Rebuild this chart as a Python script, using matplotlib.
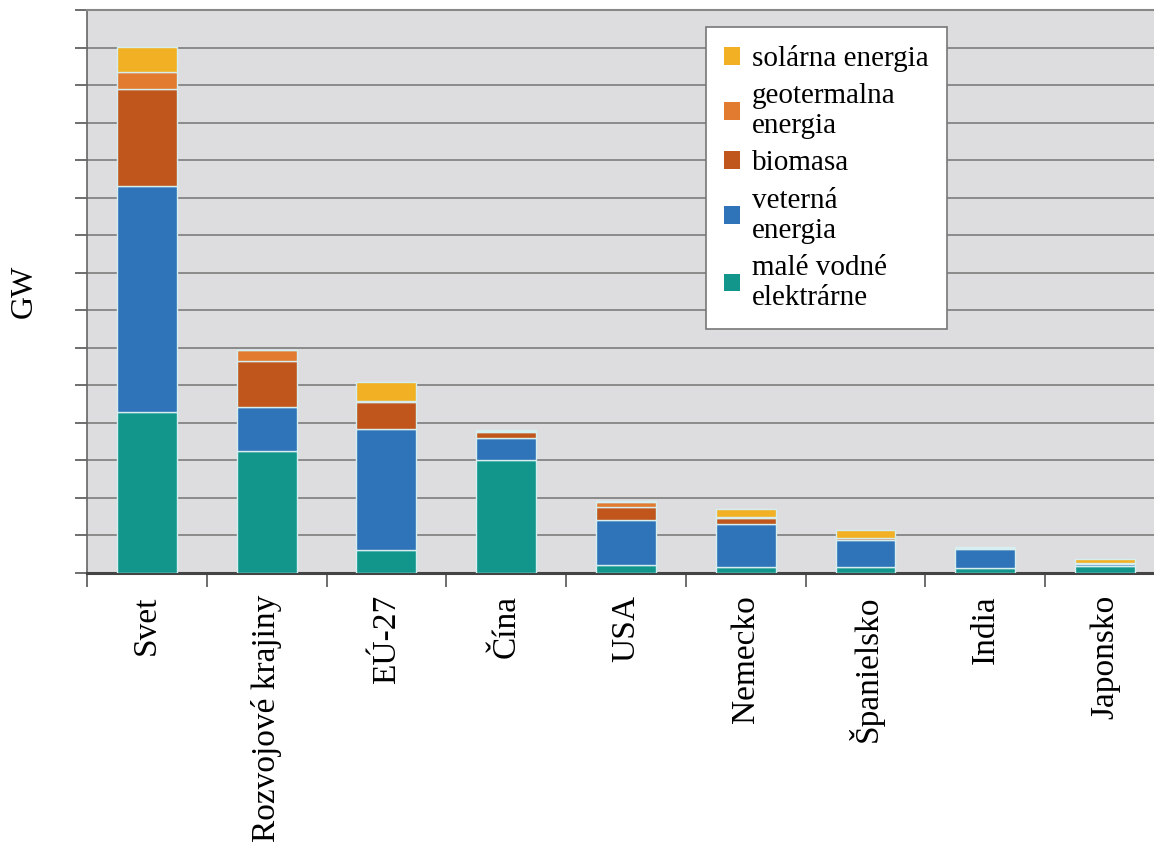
import numpy as np
from matplotlib import pyplot as plt

# podiel obnovitelnych zdrojov (GW), odcitane z grafu v jednotkach mriezky
krajiny = ['Svet', 'Rozvojové krajiny', 'EÚ-27', 'Čína', 'USA',
           'Nemecko', 'Španielsko', 'India', 'Japonsko']
male_vodne = [4.29, 3.25, 0.61, 3.01, 0.21, 0.16, 0.16, 0.13, 0.19]
veterna = [6.03, 1.17, 3.23, 0.59, 1.20, 1.15, 0.72, 0.50, 0.05]
biomasa = [2.59, 1.23, 0.72, 0.16, 0.35, 0.16, 0.04, 0.03, 0.03]
geotermalna = [0.45, 0.29, 0.03, 0.03, 0.13, 0.03, 0.02, 0.00, 0.00]
solarna = [0.67, 0.00, 0.51, 0.02, 0.03, 0.20, 0.20, 0.02, 0.10]

serie = [male_vodne, veterna, biomasa, geotermalna, solarna]
nazvy = ['malé vodné\nelektrárne', 'veterná\nenergia', 'biomasa',
         'geotermalna\nenergia', 'solárna energia']
farby = ['#12968c', '#2f74b8', '#c0561c', '#e27a30', '#f2b124']

plt.rcParams['font.family'] = ['Liberation Serif', 'DejaVu Serif']

fig = plt.figure(figsize=(11.54, 8.5), dpi=100)
ax = fig.add_axes([0.0754, 0.326, 0.934, 0.662])
ax.set_facecolor('#dddddf')

x = np.arange(len(krajiny))
spodok = np.zeros(len(krajiny))
handles = []
for hodnoty, nazov, farba in zip(serie, nazvy, farby):
    b = ax.bar(x, hodnoty, 0.5, bottom=spodok, color=farba,
               edgecolor='#d6eef0', linewidth=1.0, label=nazov, zorder=3)
    handles.append(b)
    spodok = spodok + np.array(hodnoty)

ax.set_xlim(-0.5, len(krajiny) - 0.5)
ax.set_ylim(0, 15)
ax.set_yticks(np.arange(0, 16))
ax.set_yticklabels([])
ax.yaxis.grid(True, color='#8a8a8a', linewidth=1.4, zorder=0)
ax.set_axisbelow(True)
ax.tick_params(axis='y', direction='out', length=9, width=1.2, color='#555555')

ax.set_xticks(x)
ax.set_xticklabels(krajiny, rotation=90, fontsize=24)
ax.tick_params(axis='x', which='major', length=0, pad=16)
ax.set_xticks(np.arange(-0.5, len(krajiny), 1.0), minor=True)
ax.tick_params(axis='x', which='minor', direction='out', length=10,
               width=1.2, color='#555555')

ax.spines['bottom'].set_color('#444444')
ax.spines['bottom'].set_linewidth(2.2)
ax.spines['left'].set_color('#666666')
ax.spines['left'].set_linewidth(1.2)
ax.spines['top'].set_color('#888888')
ax.spines['top'].set_linewidth(1.5)
ax.spines['right'].set_visible(False)

ax.set_ylabel('GW', fontsize=23, labelpad=22)

leg = ax.legend(handles[::-1], nazvy[::-1], loc='upper left',
                bbox_to_anchor=(0.612, 0.968), bbox_transform=fig.transFigure,
                borderaxespad=0, fontsize=21, handlelength=0.55,
                handleheight=0.55, handletextpad=0.4, labelspacing=0.38,
                borderpad=0.62, fancybox=False, framealpha=1,
                edgecolor='#777777')
leg.get_frame().set_linewidth(1.2)
for h in leg.legend_handles:
    h.set_edgecolor('none')

fig.savefig('out.png', dpi=100)
